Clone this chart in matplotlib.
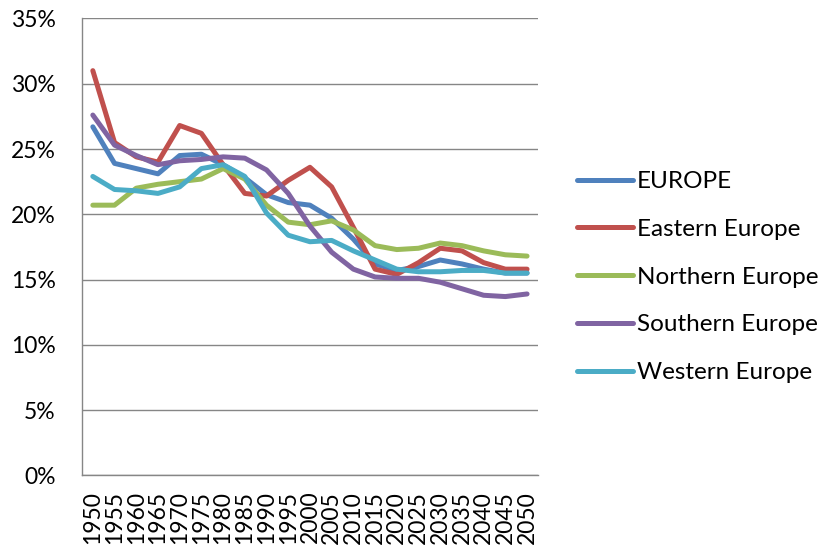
import matplotlib
matplotlib.use("Agg")
import matplotlib.pyplot as plt

##################################################
# Data (share, %)
years = [str(y) for y in range(1950, 2051, 5)]

europe = [26.7, 23.9, 23.5, 23.1, 24.5, 24.6, 23.8, 22.8, 21.5, 20.9, 20.7,
          19.7, 18.1, 16.2, 15.7, 16.0, 16.5, 16.2, 15.8, 15.5, 15.5]
eastern = [31.0, 25.5, 24.4, 24.0, 26.8, 26.2, 23.8, 21.6, 21.4, 22.6, 23.6,
           22.1, 19.0, 15.8, 15.4, 16.3, 17.4, 17.2, 16.3, 15.8, 15.8]
northern = [20.7, 20.7, 22.0, 22.3, 22.5, 22.7, 23.5, 22.7, 20.7, 19.4, 19.2,
            19.5, 18.8, 17.6, 17.3, 17.4, 17.8, 17.6, 17.2, 16.9, 16.8]
southern = [27.6, 25.3, 24.5, 23.8, 24.1, 24.2, 24.4, 24.3, 23.4, 21.6, 19.1,
            17.1, 15.8, 15.2, 15.1, 15.1, 14.8, 14.3, 13.8, 13.7, 13.9]
western = [22.9, 21.9, 21.8, 21.6, 22.1, 23.5, 23.8, 22.9, 20.1, 18.4, 17.9,
           18.0, 17.2, 16.5, 15.8, 15.6, 15.6, 15.7, 15.7, 15.5, 15.5]

series = [
    ("EUROPE", europe, "#4F81BD"),
    ("Eastern Europe", eastern, "#C0504D"),
    ("Northern Europe", northern, "#9BBB59"),
    ("Southern Europe", southern, "#8064A2"),
    ("Western Europe", western, "#4BACC6"),
]

##################################################
# Plot
plt.rcParams["font.family"] = ["Lato", "DejaVu Sans"]
fig = plt.figure(figsize=(8.23, 5.5), dpi=100)
ax = fig.add_axes([0.0996, 0.1355, 0.554, 0.831])

x = range(len(years))
for name, vals, color in series:
    ax.plot(x, vals, color=color, lw=3.6, label=name, solid_joinstyle="round",
            solid_capstyle="round")

ax.set_xlim(-0.5, len(years) - 0.5)
ax.set_ylim(0, 35)
ax.set_yticks(range(0, 36, 5))
ax.set_yticklabels([f"{v}%" for v in range(0, 36, 5)])
ax.set_xticks(list(x))
ax.set_xticklabels(years, rotation=90)

ax.grid(axis="y", color="#868686", lw=1)
ax.set_axisbelow(True)
for side in ["top", "right"]:
    ax.spines[side].set_visible(False)
for side in ["left", "bottom"]:
    ax.spines[side].set_color("#868686")
    ax.spines[side].set_linewidth(1)
ax.tick_params(axis="both", length=0, labelsize=16.5, colors="black")
ax.tick_params(axis="y", pad=19)
ax.tick_params(axis="x", pad=11)

fig.legend(loc="center left", bbox_to_anchor=(577 / 823, 1 - 277 / 550),
           frameon=False, fontsize=17.5, handlelength=2.3, handletextpad=0.17,
           labelspacing=1.1, borderpad=0, borderaxespad=0)

fig.savefig("out.png", dpi=100)
